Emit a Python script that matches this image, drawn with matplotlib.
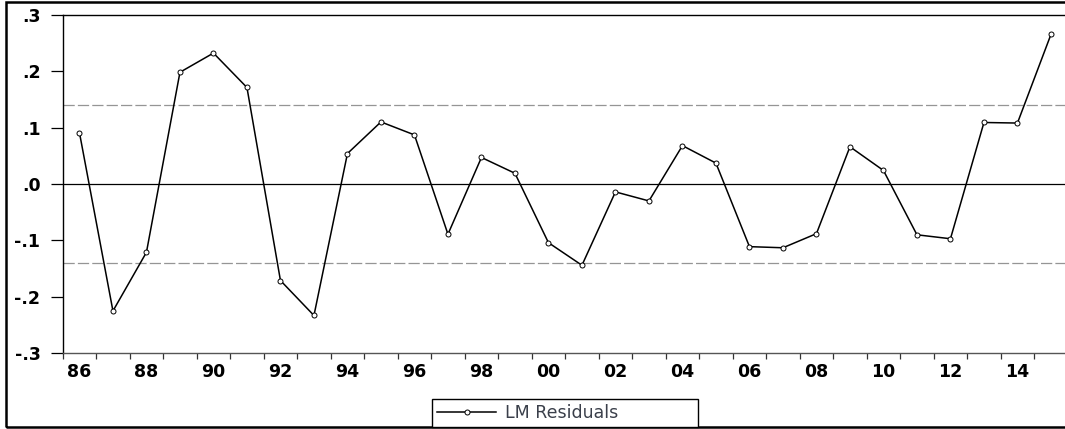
import matplotlib.pyplot as plt
import numpy as np
from matplotlib.patches import Rectangle
from matplotlib.ticker import FixedLocator, FuncFormatter

years = np.arange(1986, 2016)
residuals = [
    0.091, -0.225, -0.121, 0.198, 0.232, 0.171, -0.171, -0.233, 0.054, 0.110,
    0.087, -0.089, 0.047, 0.019, -0.104, -0.144, -0.014, -0.030, 0.068, 0.037,
    -0.111, -0.113, -0.088, 0.066, 0.024, -0.090, -0.097, 0.109, 0.108, 0.265,
]
band = 0.14
y_ticks = [-0.3, -0.2, -0.1, 0.0, 0.1, 0.2, 0.3]
label_years = np.arange(1986, 2016, 2)

W, H = 1065, 429
fig = plt.figure(figsize=(W / 100, H / 100), dpi=100)
ax = fig.add_axes([62.7 / W, 1 - 353.3 / H, 1005 / W, 338.6 / H])

# outer border round the whole graph
fig.patches.append(
    Rectangle((6 / W, 2.5 / H), 1.2, 1 - 4.5 / H, transform=fig.transFigure,
              fill=False, edgecolor="black", linewidth=1.8, zorder=0)
)

ax.axhline(0, color="black", linewidth=0.9, zorder=1)
for level in (band, -band):
    ax.axhline(level, color="#959595", linewidth=0.9, linestyle=(0, (9, 2.5)), zorder=1)

ax.plot(years, residuals, color="black", linewidth=1.1, marker="o", markersize=3.6,
        markerfacecolor="white", markeredgecolor="black", markeredgewidth=0.7,
        label="LM Residuals", zorder=3)

ax.set_xlim(1985.5, 2015.5)
ax.set_ylim(-0.3, 0.3)

bold = {"family": "DejaVu Sans", "weight": "bold", "size": 12.5}

ax.set_yticks(y_ticks)
ax.yaxis.set_major_formatter(FuncFormatter(
    lambda v, pos: (f"{v:.1f}".replace("0.", ".") if abs(v) > 1e-9 else ".0")
))
ax.tick_params(axis="y", direction="out", length=9, width=0.9, pad=7)

ax.xaxis.set_major_locator(FixedLocator(label_years))
ax.xaxis.set_major_formatter(FuncFormatter(lambda v, pos: f"{int(round(v)) % 100:02d}"))
ax.xaxis.set_minor_locator(FixedLocator(np.arange(1985.5, 2016, 1)))
ax.tick_params(axis="x", which="major", length=0, pad=7)
ax.tick_params(axis="x", which="minor", direction="out", length=4.5, width=0.9,
               color="#333333")

for lab in ax.get_xticklabels() + ax.get_yticklabels():
    lab.set_fontproperties(bold)

for side in ("left", "top"):
    ax.spines[side].set_linewidth(1.0)
ax.spines["bottom"].set_color("#555555")
ax.spines["bottom"].set_linewidth(1.0)
ax.spines["right"].set_visible(False)

leg = fig.legend(
    loc="lower left", bbox_to_anchor=(432 / W, 2 / H, 266 / W, 27 / H), mode="expand",
    borderaxespad=0, frameon=True, fancybox=False, edgecolor="black", framealpha=1,
    handlelength=3.4, borderpad=0.3, handletextpad=0.5,
    prop={"family": "DejaVu Sans", "size": 12.5},
)
leg.get_frame().set_linewidth(1.0)
for t in leg.get_texts():
    t.set_color("#3a3f4a")

fig.savefig("out.png", dpi=100)
